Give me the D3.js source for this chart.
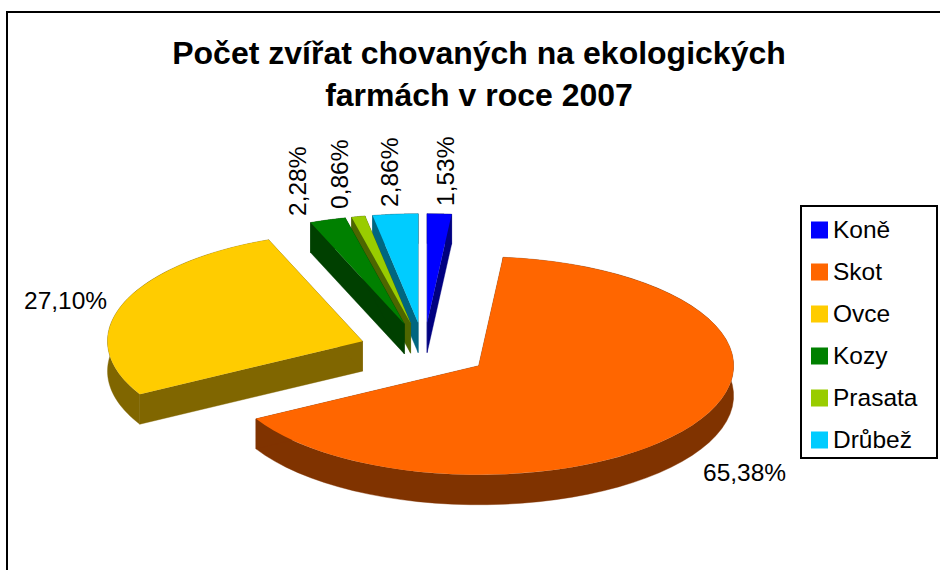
<!DOCTYPE html>
<html>
<head>
<meta charset="utf-8">
<script src="https://cdn.jsdelivr.net/npm/d3@7"></script>
<style>
    html, body { margin: 0; padding: 0; background: #fff; overflow: hidden; }
    svg { display: block; }
    text { font-family: "Liberation Sans", Arial, sans-serif; fill: #000; }
    .chart-title { font-size: 32px; font-weight: bold; text-anchor: middle; }
    .pct, .legend-label { font-size: 24.5px; }
</style>
</head>
<body>
<div id="chart"></div>
<script>
// Data
var categories = ['Koně', 'Skot', 'Ovce', 'Kozy', 'Prasata', 'Drůbež'];
var shares = [1.53, 65.38, 27.10, 2.28, 0.86, 2.86];
var pctLabels = ['1,53%', '65,38%', '27,10%', '2,28%', '0,86%', '2,86%'];
var titleLines = ['Počet zvířat chovaných na ekologických', 'farmách v roce 2007'];

var topColors = ['#0000ff', '#ff6600', '#ffcc00', '#008000', '#99cc00', '#00ccff'];
var wallColors = ['#000080', '#803300', '#806600', '#004000', '#4d6600', '#006680'];

var width = 940,
    height = 570,
    rx = 255,
    ry = 109,
    depth = 30,
    explode = 0.256,
    cx = 424,
    cy = 350.5;

var svg = d3.select('#chart').append('svg')
    .attr('width', width)
    .attr('height', height);

// Outer frame, runs off the right and bottom of the picture
svg.append('path')
    .attr('d', 'M7,' + height + 'V12H' + width)
    .attr('fill', 'none')
    .attr('stroke', '#000')
    .attr('stroke-width', 2);

svg.selectAll('.chart-title').data(titleLines).enter().append('text')
    .attr('class', 'chart-title')
    .attr('x', 479)
    .attr('y', function(d, i) { return 64 + i * 42; })
    .text(function(d) { return d; });

var pie = d3.pie().sort(null).value(function(d) { return d; });
var slices = pie(shares);

var arc = d3.arc().innerRadius(0).outerRadius(rx);

// Rim point of a slice in screen space, relative to its apex
function rim(angle) {
    return [rx * Math.sin(angle), -ry * Math.cos(angle)];
}

function apex(d) {
    var mid = (d.startAngle + d.endAngle) / 2;
    var p = rim(mid);
    return [cx + p[0] * explode, cy + p[1] * explode];
}

function wallPaths(d) {
    var a = apex(d);
    var line = d3.line();
    var steps = d3.range(0, 61).map(function(i) {
        return d.startAngle + (d.endAngle - d.startAngle) * i / 60;
    });
    var upper = steps.map(function(t) {
        var p = rim(t);
        return [a[0] + p[0], a[1] + p[1]];
    });
    var lower = upper.map(function(p) { return [p[0], p[1] + depth]; }).reverse();
    var first = upper[0], last = upper[upper.length - 1];
    return [
        line(upper.concat(lower)) + 'Z',
        line([a, first, [first[0], first[1] + depth], [a[0], a[1] + depth]]) + 'Z',
        line([a, last, [last[0], last[1] + depth], [a[0], a[1] + depth]]) + 'Z'
    ];
}

// Drůbež, Prasata, Kozy in that order: each top hides most of the next wall
var drawOrder = [5, 4, 3, 0, 2, 1];

drawOrder.forEach(function(i) {
    var d = slices[i];
    var a = apex(d);
    var g = svg.append('g').attr('class', 'slice');

    g.selectAll('path.wall').data(wallPaths(d)).enter().append('path')
        .attr('class', 'wall')
        .attr('d', function(p) { return p; })
        .attr('fill', wallColors[i])
        .attr('stroke', wallColors[i])
        .attr('stroke-width', 0.4);

    g.append('path')
        .attr('class', 'top')
        .attr('d', arc(d))
        .attr('transform', 'translate(' + a[0] + ',' + a[1] + ') scale(1,' + (ry / rx) + ')')
        .attr('fill', topColors[i]);
});

// Percent labels: the narrow slices get rotated text, as in the original
var labelPos = [
    { x: 454, y: 206, rotate: -90 },
    { x: 703, y: 481, rotate: 0 },
    { x: 24, y: 309, rotate: 0 },
    { x: 306, y: 216, rotate: -90 },
    { x: 348, y: 209, rotate: -90 },
    { x: 398, y: 207, rotate: -90 }
];

svg.selectAll('.pct').data(pctLabels).enter().append('text')
    .attr('class', 'pct')
    .attr('transform', function(d, i) {
        var p = labelPos[i];
        return 'translate(' + p.x + ',' + p.y + ') rotate(' + p.rotate + ')';
    })
    .text(function(d) { return d; });

// Legend
var legendY = d3.scalePoint().domain(categories).range([230, 440]);

svg.append('rect')
    .attr('x', 801)
    .attr('y', 206)
    .attr('width', 136)
    .attr('height', 252)
    .attr('fill', '#fff')
    .attr('stroke', '#000')
    .attr('stroke-width', 2);

var legend = svg.selectAll('.legend-item').data(categories).enter().append('g')
    .attr('class', 'legend-item')
    .attr('transform', function(d) { return 'translate(811,' + legendY(d) + ')'; });

legend.append('rect')
    .attr('y', -8.5)
    .attr('width', 17)
    .attr('height', 17)
    .attr('fill', function(d, i) { return topColors[i]; });

legend.append('text')
    .attr('class', 'legend-label')
    .attr('x', 22)
    .attr('y', 8)
    .text(function(d) { return d; });
</script>
</body>
</html>
